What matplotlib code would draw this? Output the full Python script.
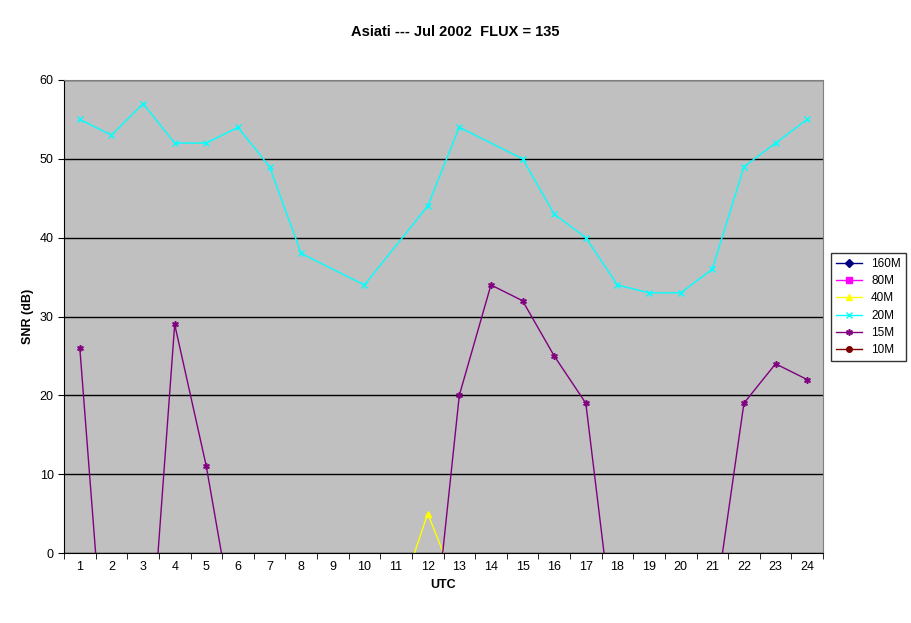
import numpy as np
import matplotlib
matplotlib.use("Agg")
import matplotlib.pyplot as plt
from matplotlib.ticker import MultipleLocator

plt.rcParams['font.family'] = ['Liberation Sans', 'DejaVu Sans']
hours = list(range(1, 25))
s160 = [-30]*24
s80 = [-30]*24
s40 = [-30]*10 + [-7, 5, -5] + [-30]*11
s20 = [55, 53, 57, 52, 52, 54, 49, 38, None, 34, None, 44, 54, None, 50, 43, 40, 34, 33, 33, 36, 49, 52, 55]
s15 = [26, -26, -26, 29, 11, -12, -30, -30, -30, -30, -30, -18, 20, 34, 32, 25, 19, -14, -30, -30, -9, 19, 24, 22]
s10 = [-30]*24

fig = plt.figure(figsize=(9.11, 6.23), dpi=100)
ax = fig.add_axes([64/911, 1-553/623, (823-64)/911, (553-80)/623])
ax.set_facecolor('#C0C0C0')
series = [("160M", s160, '#000080', 'D', 4), ("80M", s80, '#FF00FF', 's', 4),
          ("40M", s40, '#FFFF00', '^', 5), ("20M", s20, '#00FFFF', 'x', 4),
          ("15M", s15, '#800080', 'x', 4), ("10M", s10, '#800000', 'o', 4)]
for name, vals, c, m, ms in series:
    xs = [h for h, v in zip(hours, vals) if v is not None]
    ys = [v for v in vals if v is not None]
    mk = '$*$' if name == '15M' else m
    ax.plot(xs, ys, color=c, marker=mk, markersize=ms, lw=1, label=name, clip_on=True)
ax.set_xlim(0.5, 24.5)
ax.set_ylim(0, 60)
ax.set_yticks(range(0, 61, 10))
ax.set_xticks(hours)
ax.xaxis.set_minor_locator(MultipleLocator(1))
ax.set_xticks(np.arange(0.5, 25, 1), minor=True)
ax.tick_params(axis='x', which='major', length=0, pad=6)
ax.tick_params(axis='x', which='minor', length=4, direction='out')
ax.tick_params(axis='y', length=4, direction='out')
ax.tick_params(labelsize=9)
ax.yaxis.grid(True, color='black', lw=1)
ax.set_axisbelow(True)
for sp in ax.spines.values():
    sp.set_color('#808080')
ax.spines['left'].set_color('black')
ax.spines['bottom'].set_color('black')
ax.set_xlabel('UTC', fontsize=9, fontweight='bold')
ax.set_ylabel('SNR (dB)', fontsize=9, fontweight='bold')
fig.text(455/911, 1-32/623, 'Asiati --- Jul 2002  FLUX = 135', ha='center', va='center', fontsize=10.5, fontweight='bold')
leg = fig.legend(loc='upper left', bbox_to_anchor=(831/911, 1-253/623), fontsize=8.5,
                 frameon=True, fancybox=False, edgecolor='black', borderaxespad=0,
                 handlelength=2.2, labelspacing=0.45, borderpad=0.4)
leg.get_frame().set_linewidth(1)
fig.savefig('out.png', dpi=100)
